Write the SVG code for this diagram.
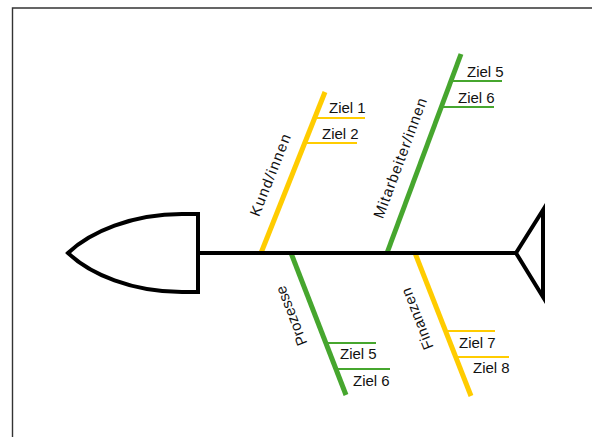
<svg xmlns="http://www.w3.org/2000/svg" width="592" height="437" viewBox="0 0 592 437">
<style>
.frame{fill:none;stroke:#333;stroke-width:1.4}
.blk{fill:#fff;stroke:#000;stroke-width:4;stroke-linejoin:miter}
.spine{stroke:#000;stroke-width:4;fill:none}
.y{stroke:#ffcc00}
.g{stroke:#46a62e}
.br{stroke-width:5;fill:none}
.tk{stroke-width:2;fill:none}
text{font-family:"Liberation Sans",Arial,sans-serif;font-size:15px;fill:#111}
.lbl{text-anchor:middle}
</style>
<rect x="0" y="0" width="592" height="437" fill="#fff"/>
<path class="frame" d="M12.5,437 V8 H592"/>
<g id="connectors">
<line class="br y" x1="261" y1="253" x2="325" y2="92"/>
<line class="br g" x1="387" y1="253" x2="461" y2="54"/>
<line class="br g" x1="291" y1="253" x2="346" y2="395"/>
<line class="br y" x1="415" y1="253" x2="471" y2="396"/>
<line class="spine" x1="198" y1="253" x2="516" y2="253"/>
</g>
<g id="head"><path class="blk" d="M198,214 L182,214 C132,214 90,232 68,253 C90,274 132,292 182,292 L198,292 Z"/></g>
<g id="tail"><polygon class="blk" points="543,210 516,253 543,297"/></g>
<g id="kund">
<text class="lbl" transform="translate(275,177) rotate(-68.3)" textLength="87" lengthAdjust="spacing">Kund/innen</text>
<line class="tk y" x1="314" y1="118" x2="365" y2="118"/>
<line class="tk y" x1="305" y1="143" x2="357" y2="143"/>
<text x="329" y="113">Ziel 1</text>
<text x="322" y="139">Ziel 2</text>
</g>
<g id="mitarbeiter">
<text class="lbl" transform="translate(405,160) rotate(-69.6)" textLength="127" lengthAdjust="spacing">Mitarbeiter/innen</text>
<line class="tk g" x1="451" y1="81" x2="502" y2="81"/>
<line class="tk g" x1="441" y1="107" x2="494" y2="107"/>
<text x="467" y="77">Ziel 5</text>
<text x="458" y="103">Ziel 6</text>
</g>
<g id="prozesse">
<text class="lbl" transform="translate(296,314) rotate(-111.2)" textLength="63" lengthAdjust="spacing">Prozesse</text>
<line class="tk g" x1="326" y1="343" x2="376" y2="343"/>
<line class="tk g" x1="336" y1="369" x2="390" y2="369"/>
<text x="340" y="359">Ziel 5</text>
<text x="353" y="386">Ziel 6</text>
</g>
<g id="finanzen">
<text class="lbl" transform="translate(422,317) rotate(-111.4)" textLength="65" lengthAdjust="spacing">Finanzen</text>
<line class="tk y" x1="445" y1="331" x2="495" y2="331"/>
<line class="tk y" x1="456" y1="357" x2="509" y2="357"/>
<text x="459" y="348">Ziel 7</text>
<text x="473" y="373">Ziel 8</text>
</g>
</svg>
